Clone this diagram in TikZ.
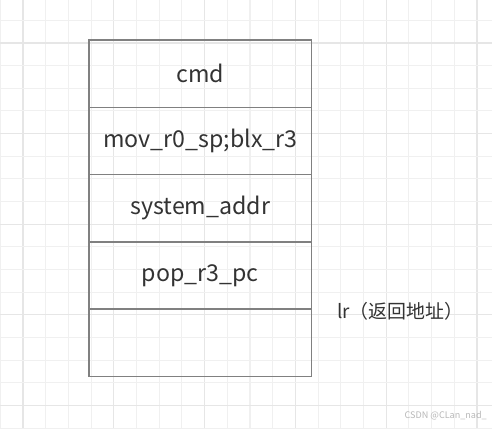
\documentclass[tikz,border=0pt]{standalone}
\usepackage{fontspec}
\setmainfont{Noto Sans CJK SC}
\usetikzlibrary{positioning}
\definecolor{gridminor}{HTML}{F0F0F0}
\definecolor{gridmajor}{HTML}{E6E6E6}
\definecolor{cellline}{HTML}{808080}
\definecolor{celltext}{HTML}{333333}
\tikzset{
  cell/.style={rectangle, draw=cellline, line width=1.1pt, outer sep=0pt, minimum width=167pt, minimum height=50.45pt, inner sep=0pt, font=\fontsize{17.4}{19}\selectfont, text=celltext},
  note/.style={font=\fontsize{14.2}{16}\selectfont, text=celltext, inner sep=0pt},
  mark text/.style={font=\fontsize{6.8}{8}\selectfont, text=black!28, inner sep=0pt},
}
\begin{document}
\begin{tikzpicture}[x=0.75pt, y=-0.75pt]
  \useasboundingbox[fill=white] (0,0) rectangle (492,428);
  % Grid
  \foreach \i in {0,...,21} {
    \pgfmathsetmacro{\gx}{0.3+22.7*\i}
    \pgfmathtruncatemacro{\gm}{mod(\i+3,4)}
    \ifnum\gm=0
      \draw[gridmajor, line width=0.8pt] (\gx,0) -- (\gx,428);
    \else
      \draw[gridminor, line width=0.8pt] (\gx,0) -- (\gx,428);
    \fi
  }
  \foreach \j in {0,...,19} {
    \pgfmathsetmacro{\gy}{-2.3+22.65*\j}
    \pgfmathtruncatemacro{\gm}{mod(\j+2,4)}
    \ifnum\gm=0
      \draw[gridmajor, line width=0.8pt] (0,\gy) -- (492,\gy);
    \else
      \draw[gridminor, line width=0.8pt] (0,\gy) -- (492,\gy);
    \fi
  }

  % Stack
  \node[cell, anchor=north west] (c1) at (89,40) {cmd};
  \node[cell, below=0pt of c1] (c2) {mov\_r0\_sp;blx\_r3};
  \node[cell, below=0pt of c2] (c3) {system\_addr};
  \node[cell, below=0pt of c3] (c4) {pop\_r3\_pc};
  \node[cell, below=0pt of c4] (c5) {};

  % Label
  \node[note, right=19pt of c4.south east, yshift=-1.5pt] (lr) {lr（返回地址）};

  % Watermark
  \node[mark text, anchor=east] (wm) at (487,416) {CSDN @CLan\_nad\_};
\end{tikzpicture}
\end{document}
